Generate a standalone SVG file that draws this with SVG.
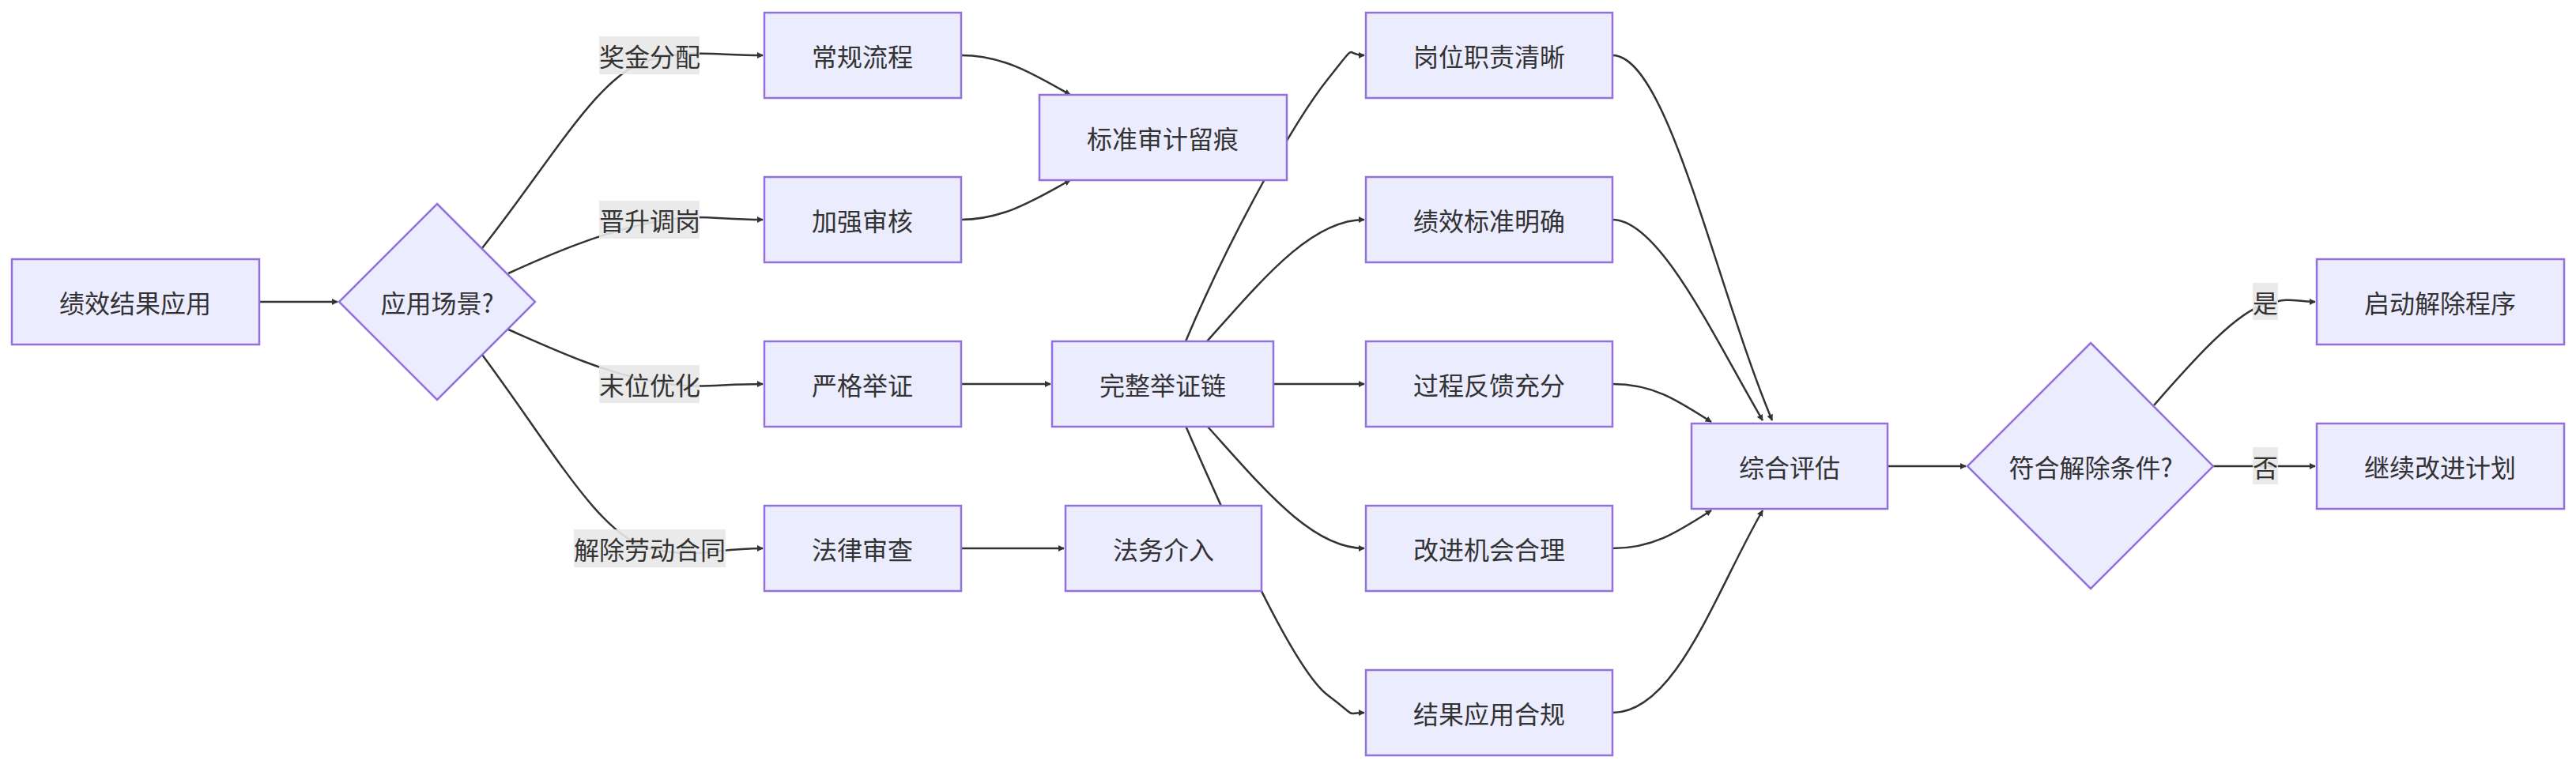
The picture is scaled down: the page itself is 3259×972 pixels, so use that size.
<svg xmlns="http://www.w3.org/2000/svg" width="3259" height="972" viewBox="0 0 3259 972">
<style>
.n rect,.n polygon{fill:#ECECFF;stroke:#9370DB;stroke-width:2.5}
text{font-family:"Noto Sans CJK SC","Liberation Sans",sans-serif;font-size:32px;fill:#333;text-anchor:middle;dominant-baseline:central}
.e path{fill:none;stroke:#333;stroke-width:2.5;marker-end:url(#a)}
.lb rect{fill:#e8e8e8;opacity:0.9}
</style>
<defs><marker id="a" viewBox="0 0 10 10" refX="9" refY="5" markerWidth="8" markerHeight="8" markerUnits="userSpaceOnUse" orient="auto"><path d="M0,0L10,5L0,10z" fill="#333" transform="scale(1)"/></marker></defs>
<rect width="3259" height="972" fill="#fff"/>
<g class="e">
<path d="M328,382H427" style="marker-end:url(#a)"/>
<path d="M610,314C700,200 760,90 822,76S900,70 965,70"/>
<path d="M643,346C700,320 760,295 822,282S900,278 965,278"/>
<path d="M643,417C700,442 760,470 822,482S900,486 965,486"/>
<path d="M610,449C700,570 760,680 822,694S900,694 965,694"/>
<path d="M1216,70C1270,70 1310,95 1354,120"/>
<path d="M1216,278C1270,278 1310,252 1354,228"/>
<path d="M1216,486H1329"/>
<path d="M1216,694H1346"/>
<path d="M1500,432C1560,290 1640,150 1680,100S1700,70 1726,70"/>
<path d="M1527,432C1600,350 1660,278 1726,278"/>
<path d="M1611,486H1726"/>
<path d="M1527,539C1600,620 1660,694 1726,694"/>
<path d="M1500,539C1570,700 1640,850 1680,880S1700,902 1726,902"/>
<path d="M2040,70C2110,70 2170,360 2242,532"/>
<path d="M2040,278C2100,278 2170,430 2230,532"/>
<path d="M2040,486C2090,486 2120,505 2165,534"/>
<path d="M2040,694C2090,694 2120,675 2165,646"/>
<path d="M2040,902C2120,902 2170,750 2230,646"/>
<path d="M2388,590H2487"/>
<path d="M2725,513C2780,450 2830,395 2866,385S2900,382 2929,382"/>
<path d="M2800,590H2929"/>
</g>
<g class="lb">
<g id="l1"><rect x="758" y="46" width="127" height="48"/><text x="822" y="70">奖金分配</text></g>
<g id="l2"><rect x="758" y="254" width="127" height="48"/><text x="822" y="278">晋升调岗</text></g>
<g id="l3"><rect x="758" y="462" width="127" height="48"/><text x="822" y="486">末位优化</text></g>
<g id="l4"><rect x="726" y="670" width="192" height="48"/><text x="822" y="694">解除劳动合同</text></g>
<g id="l5"><rect x="2850" y="358" width="32" height="47"/><text x="2866" y="382">是</text></g>
<g id="l6"><rect x="2850" y="566" width="32" height="47"/><text x="2866" y="590">否</text></g>
</g>
<g class="n" id="A"><rect x="15" y="328" width="313" height="108"/><text x="171" y="382">绩效结果应用</text></g>
<g class="n" id="B"><polygon points="553,258 677,382 553,506 429,382"/><text x="553" y="382">应用场景?</text></g>
<g class="n" id="C1"><rect x="967" y="16" width="249" height="108"/><text x="1091" y="70">常规流程</text></g>
<g class="n" id="C2"><rect x="967" y="224" width="249" height="108"/><text x="1091" y="278">加强审核</text></g>
<g class="n" id="C3"><rect x="967" y="432" width="249" height="108"/><text x="1091" y="486">严格举证</text></g>
<g class="n" id="C4"><rect x="967" y="640" width="249" height="108"/><text x="1091" y="694">法律审查</text></g>
<g class="n" id="D1"><rect x="1315" y="120" width="313" height="108"/><text x="1471" y="174">标准审计留痕</text></g>
<g class="n" id="D2"><rect x="1331" y="432" width="280" height="108"/><text x="1471" y="486">完整举证链</text></g>
<g class="n" id="D3"><rect x="1348" y="640" width="248" height="108"/><text x="1472" y="694">法务介入</text></g>
<g class="n" id="E1"><rect x="1728" y="16" width="312" height="108"/><text x="1884" y="70">岗位职责清晰</text></g>
<g class="n" id="E2"><rect x="1728" y="224" width="312" height="108"/><text x="1884" y="278">绩效标准明确</text></g>
<g class="n" id="E3"><rect x="1728" y="432" width="312" height="108"/><text x="1884" y="486">过程反馈充分</text></g>
<g class="n" id="E4"><rect x="1728" y="640" width="312" height="108"/><text x="1884" y="694">改进机会合理</text></g>
<g class="n" id="E5"><rect x="1728" y="848" width="312" height="108"/><text x="1884" y="902">结果应用合规</text></g>
<g class="n" id="F"><rect x="2140" y="536" width="248" height="108"/><text x="2264" y="590">综合评估</text></g>
<g class="n" id="G"><polygon points="2645,434 2800,590 2645,745 2489,590"/><text x="2645" y="590">符合解除条件?</text></g>
<g class="n" id="H1"><rect x="2931" y="328" width="313" height="108"/><text x="3087" y="382">启动解除程序</text></g>
<g class="n" id="H2"><rect x="2931" y="536" width="313" height="108"/><text x="3087" y="590">继续改进计划</text></g>
</svg>
